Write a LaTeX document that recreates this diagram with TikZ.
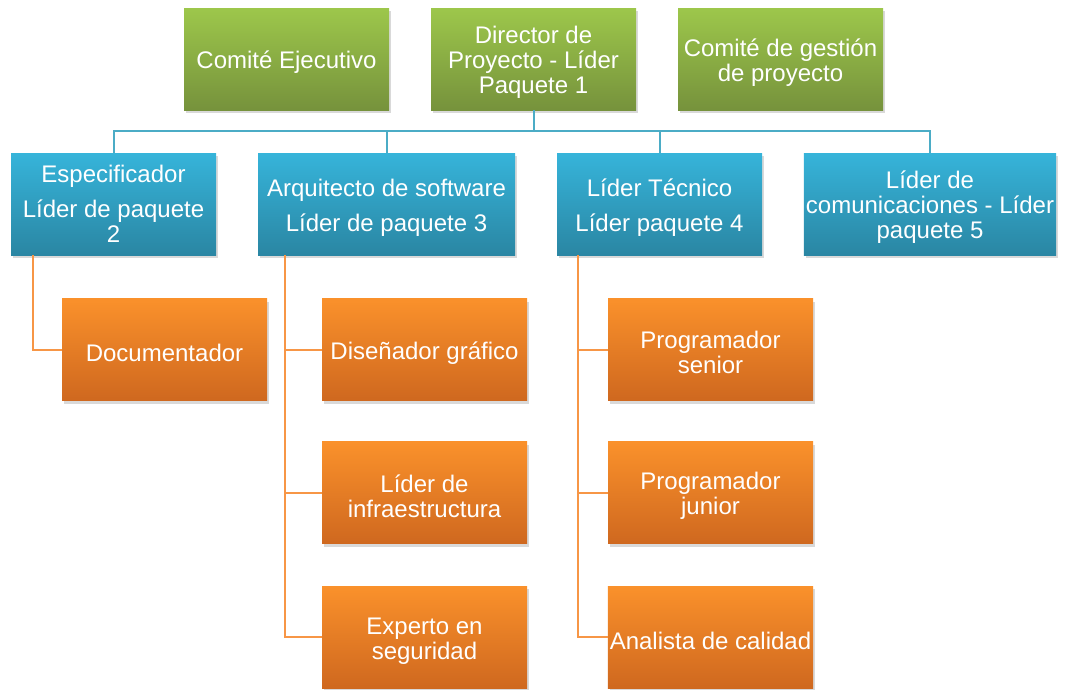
\documentclass[tikz,border=0pt]{standalone}
\usepackage{fontspec}
\setmainfont{Liberation Sans}
\usetikzlibrary{shapes,arrows,positioning,shadows}
\definecolor{greentop}{HTML}{9DC74B}
\definecolor{greenbot}{HTML}{76923C}
\definecolor{bluetop}{HTML}{36B4DA}
\definecolor{bluebot}{HTML}{2A86A3}
\definecolor{orangetop}{HTML}{FA912B}
\definecolor{orangebot}{HTML}{CF681F}
\definecolor{blueline}{HTML}{4BACC6}
\definecolor{orangeline}{HTML}{F79646}
\newcommand{\firstline}{\rule{0pt}{24pt}}
\tikzstyle{block} = [rectangle, minimum width=205pt, minimum height=102pt, inner sep=2pt, text=white, align=center, font=\fontsize{24}{25}\selectfont, drop shadow={opacity=0.3, shadow xshift=2pt, shadow yshift=-3pt}]
\tikzstyle{green_block} = [block, top color=greentop, bottom color=greenbot]
\tikzstyle{blue_block} = [block, top color=bluetop, bottom color=bluebot]
\tikzstyle{orange_block} = [block, top color=orangetop, bottom color=orangebot]
\tikzstyle{blue_line} = [draw, blueline, line width=2pt]
\tikzstyle{orange_line} = [draw, orangeline, line width=2pt]
\begin{document}
\begin{tikzpicture}[x=1pt, y=-1pt]
            \useasboundingbox (0,0) rectangle (1065,689);

            % top row
            \node[green_block] (ejecutivo) at (286.5, 59){\firstline Comité Ejecutivo};
            \node[green_block] (director) at (533.5, 59){
                \firstline Director de\\Proyecto - Líder\\Paquete 1
            };
            \node[green_block] (gestion) at (780.5, 59){
                \firstline Comité de gestión\\de proyecto
            };

            % package leaders
            \node[blue_block] (especificador) at (113.5, 204){
                Especificador\\[10pt]Líder de paquete\\2
            };
            \node[blue_block, minimum width=257pt] (arquitecto) at (386.5, 204){
                \firstline Arquitecto de software\\[10pt]Líder de paquete 3
            };
            \node[blue_block] (tecnico) at (659.5, 204){
                \firstline Líder Técnico\\[10pt]Líder paquete 4
            };
            \node[blue_block, minimum width=252pt] (comunicaciones) at (930, 204){
                \firstline Líder de\\comunicaciones - Líder\\paquete 5
            };

            \coordinate (bus) at (533.5, 131);
            \path[blue_line] (director) -- (bus);
            \path[blue_line] (bus) -| (especificador.north);
            \path[blue_line] (bus) -| (arquitecto.north);
            \path[blue_line] (bus) -| (tecnico.north);
            \path[blue_line] (bus) -| (comunicaciones.north);

            % team members
            \node[orange_block] (documentador) at (164.5, 349.5){\firstline Documentador};
            \path[orange_line] (documentador.west) -| ([xshift=22pt]especificador.south west);

            \node[orange_block] (disenador) at (424.5, 349.5){\firstline Diseñador gráfico};
            \node[orange_block, below=41pt of disenador] (infraestructura){
                \firstline Líder de\\infraestructura
            };
            \node[orange_block, below=42pt of infraestructura] (seguridad){
                \firstline Experto en\\seguridad
            };
            \path[orange_line] (disenador.west) -| ([xshift=27pt]arquitecto.south west);
            \path[orange_line] (infraestructura.west) -| ([xshift=27pt]arquitecto.south west);
            \path[orange_line] (seguridad.west) -| ([xshift=27pt]arquitecto.south west);

            \node[orange_block] (senior) at (710.5, 349.5){
                \firstline Programador\\senior
            };
            \node[orange_block, below=41pt of senior] (junior){
                \firstline Programador\\junior
            };
            \node[orange_block, below=42pt of junior] (analista){\firstline Analista de calidad};
            \path[orange_line] (senior.west) -| ([xshift=21pt]tecnico.south west);
            \path[orange_line] (junior.west) -| ([xshift=21pt]tecnico.south west);
            \path[orange_line] (analista.west) -| ([xshift=21pt]tecnico.south west);
\end{tikzpicture}
\end{document}
